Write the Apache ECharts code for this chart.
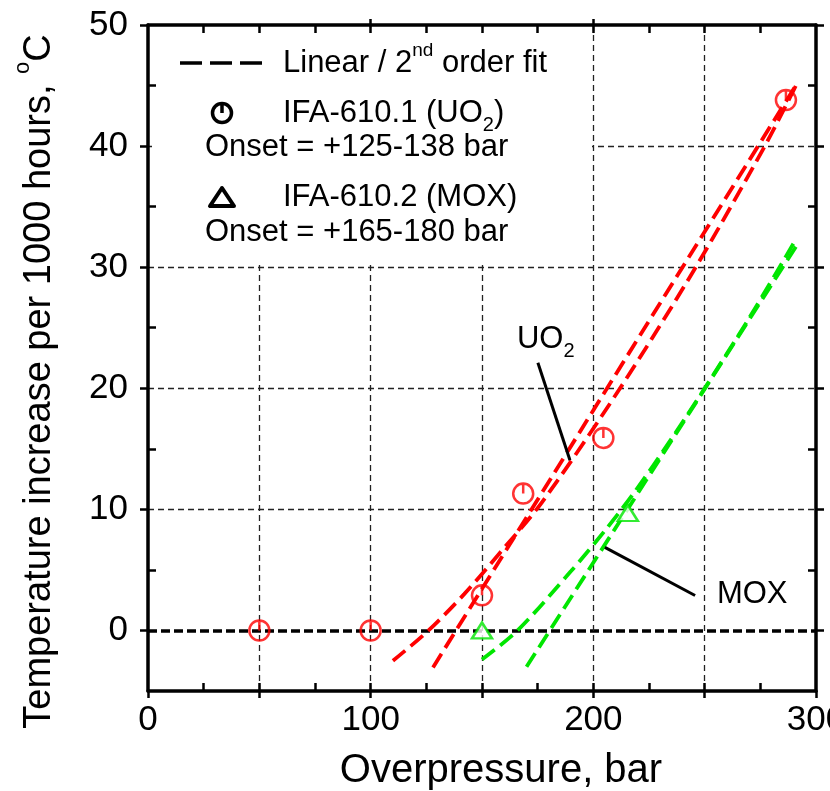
<!DOCTYPE html>
<html>
<head>
<meta charset="utf-8">
<script src="https://cdn.jsdelivr.net/npm/echarts@6/dist/echarts.min.js"></script>
<style>
  html, body { margin: 0; padding: 0; background: #fff; }
  #chart { width: 830px; height: 791px; }
</style>
</head>
<body>
<div id="chart"></div>
<script>
// measured points
const uo2X = [50, 100, 150, 168.5, 204.5, 286.5];
const uo2Y = [0, 0, 2.9, 11.3, 15.9, 43.8];
const moxX = [150, 215.5];
const moxY = [0, 9.7];

// fit curves
const uo2LinX = [128, 290.6];
const uo2LinY = [-3.05, 44.9];
const uo2QuadX = [110, 126, 142, 158, 177, 212, 246, 277, 291];
const uo2QuadY = [-2.5, 0, 3.0, 6.4, 10.6, 20, 30, 40, 45];
const moxLinX = [170, 291];
const moxLinY = [-3.0, 31.7];
const moxQuadX = [150, 166, 190, 205, 218, 235, 250, 270, 291];
const moxQuadY = [-2.4, 0, 4.9, 8.2, 11.3, 15.8, 20.0, 25.8, 32.3];

// leader lines and their labels (data coords)
const uo2LeadX = [175.1, 189.5];
const uo2LeadY = [22.1, 14.05];
const moxLeadX = [205.2, 245.7];
const moxLeadY = [6.86, 2.89];
const uo2TextAt = [165.7, 24.0];
const moxTextAt = [255.5, 2.98];

// axes
const xLabels = [0, 100, 200, 300];
const xMajor = [0, 50, 100, 150, 200, 250, 300];
const xMinor = [25, 50, 75, 100, 125, 150, 175, 200, 225, 250, 275];
const xTopMajor = [100, 200];
const yLabels = [0, 10, 20, 30, 40, 50];
const yMinor = [5, 15, 25, 35, 45];
const xGrid = [50, 100, 150, 200, 250];
const yGrid = [0, 10, 20, 30, 40];

const FONT = 'Liberation Sans, Arial, sans-serif';
const RED = '#ff0000';
const GREEN = '#00e600';
const zip = (xs, ys) => xs.map((x, i) => [x, ys[i]]);

const lineAx = { show: true, onZero: false, lineStyle: { color: '#000', width: 3.5 } };
const noLine = { show: false, onZero: false };
const tick = (vals, inside, len) => ({
  show: true, inside: inside, length: len, customValues: vals,
  lineStyle: { color: '#000', width: 2.5 }
});
const base = { type: 'value', z: 10, splitLine: { show: false } };

const thinGrid = { color: '#222', width: 1.3, type: [6, 4] };
const zeroGrid = { color: '#000', width: 3.5, type: [9, 4] };
const fitDash = [16, 7];

const chart = echarts.init(document.getElementById('chart'));
chart.setOption({
  animation: false,
  backgroundColor: '#fff',
  grid: { left: 148, right: 14, top: 25, bottom: 100, containLabel: false, outerBoundsMode: 'none' },
  xAxis: [
    Object.assign({}, base, {
      position: 'bottom', min: 0, max: 300,
      axisLine: lineAx, axisTick: tick(xMajor, false, 7),
      axisLabel: { customValues: xLabels, fontSize: 35, color: '#000', fontFamily: FONT, margin: 12 },
      name: 'Overpressure, bar', nameLocation: 'middle', nameGap: 60, nameMoveOverlap: false,
      nameTextStyle: { fontSize: 40, color: '#000', fontFamily: FONT, padding: [0, 0, 0, 38] }
    }),
    Object.assign({}, base, {
      position: 'bottom', min: 0, max: 300,
      axisLine: noLine, axisTick: tick(xMinor, true, 8), axisLabel: { show: false }
    }),
    Object.assign({}, base, {
      position: 'top', min: 0, max: 300,
      axisLine: lineAx, axisTick: tick(xMinor, true, 8), axisLabel: { show: false }
    }),
    Object.assign({}, base, {
      position: 'top', min: 0, max: 300,
      axisLine: noLine, axisTick: tick(xTopMajor, false, 6), axisLabel: { show: false }
    })
  ],
  yAxis: [
    Object.assign({}, base, {
      position: 'left', min: -5, max: 50,
      axisLine: lineAx, axisTick: tick(yLabels, false, 8),
      axisLabel: { customValues: yLabels, fontSize: 35, color: '#000', fontFamily: FONT, margin: 20 },
      name: 'Temperature increase per 1000 hours, {sup|o}C',
      nameLocation: 'middle', nameGap: 80, nameMoveOverlap: false,
      nameTextStyle: {
        fontSize: 38, color: '#000', fontFamily: FONT, lineHeight: 56, padding: [0, 47, 0, 0],
        rich: { sup: { fontSize: 22, lineHeight: 14, verticalAlign: 'top', color: '#000', fontFamily: FONT } }
      }
    }),
    Object.assign({}, base, {
      position: 'left', min: -5, max: 50,
      axisLine: noLine, axisTick: tick(yMinor, true, 8), axisLabel: { show: false }
    }),
    Object.assign({}, base, {
      position: 'right', min: -5, max: 50,
      axisLine: lineAx, axisTick: tick(yLabels, false, 8), axisLabel: { show: false }
    }),
    Object.assign({}, base, {
      position: 'right', min: -5, max: 50,
      axisLine: noLine, axisTick: tick(yMinor, true, 8), axisLabel: { show: false }
    })
  ],
  series: [
    {
      name: 'UO2 fit (2nd order)', type: 'line', data: zip(uo2QuadX, uo2QuadY),
      smooth: 0.3, symbol: 'none', z: 3,
      lineStyle: { color: RED, width: 3.8, type: fitDash }
    },
    {
      name: 'UO2 fit (linear)', type: 'line', data: zip(uo2LinX, uo2LinY),
      symbol: 'none', z: 3,
      lineStyle: { color: RED, width: 3.8, type: fitDash }
    },
    {
      name: 'MOX fit (2nd order)', type: 'line', data: zip(moxQuadX, moxQuadY),
      smooth: 0.3, symbol: 'none', z: 3,
      lineStyle: { color: GREEN, width: 3.8, type: fitDash }
    },
    {
      name: 'MOX fit (linear)', type: 'line', data: zip(moxLinX, moxLinY),
      symbol: 'none', z: 3,
      lineStyle: { color: GREEN, width: 3.8, type: fitDash }
    },
    {
      name: 'IFA-610.1 (UO2)', type: 'scatter', data: zip(uo2X, uo2Y), z: 4,
      symbol: 'path://M10,0A10,10,0,1,1,9.99,0ZM10,0L10,10', symbolSize: 20,
      itemStyle: { color: 'none', borderColor: RED, borderWidth: 2.5 },
      markLine: {
        silent: true, symbol: 'none', label: { show: false }, z: 2,
        data: yGrid.map(v => ({ yAxis: v, lineStyle: v === 0 ? zeroGrid : thinGrid }))
          .concat(xGrid.map(v => ({ xAxis: v, lineStyle: thinGrid })))
      }
    },
    {
      name: 'IFA-610.2 (MOX)', type: 'scatter', data: zip(moxX, moxY), z: 4,
      symbol: 'triangle', symbolSize: [20, 16],
      itemStyle: { color: '#fff', borderColor: GREEN, borderWidth: 2.5 }
    },
    {
      name: 'UO2 leader', type: 'line', data: zip(uo2LeadX, uo2LeadY), symbol: 'none', z: 5,
      lineStyle: { color: '#000', width: 3 }
    },
    {
      name: 'MOX leader', type: 'line', data: zip(moxLeadX, moxLeadY), symbol: 'none', z: 5,
      lineStyle: { color: '#000', width: 3 }
    }
  ]
});

const toPx = p => chart.convertToPixel({ xAxisIndex: 0, yAxisIndex: 0 }, p);
const uo2Txt = toPx(uo2TextAt);
const moxTxt = toPx(moxTextAt);
const txt = (x, y, text, extra) => ({
  type: 'text', z: 6,
  style: Object.assign({
    x: x, y: y, text: text, fill: '#000', fontSize: 31, fontFamily: FONT,
    verticalAlign: 'middle', align: 'left', lineHeight: 44
  }, extra || {})
});
const supRich = { sup: { fontSize: 19, lineHeight: 18, verticalAlign: 'top', fill: '#000', fontFamily: FONT } };
const subRich = { sub: { fontSize: 20, lineHeight: 18, verticalAlign: 'bottom', fill: '#000', fontFamily: FONT } };

chart.setOption({
  graphic: [
    // legend box
    { type: 'rect', z: 5, shape: { x: 152, y: 28, width: 440, height: 236 }, style: { fill: '#fff' } },
    { type: 'line', z: 6, shape: { x1: 180, y1: 63, x2: 263, y2: 63 },
      style: { stroke: '#000', lineWidth: 3.5, lineDash: [22, 8] } },
    txt(283, 63, 'Linear / 2{sup|nd} order fit', { rich: supRich }),
    { type: 'circle', z: 6, shape: { cx: 222, cy: 113, r: 9.5 },
      style: { fill: 'none', stroke: '#000', lineWidth: 3.5 } },
    { type: 'line', z: 6, shape: { x1: 222, y1: 103, x2: 222, y2: 113 },
      style: { stroke: '#000', lineWidth: 3.5 } },
    txt(283, 113, 'IFA-610.1 (UO{sub|2})', { rich: subRich }),
    txt(205, 147, 'Onset = +125-138 bar'),
    { type: 'polygon', z: 6, shape: { points: [[222, 188], [210, 206], [234, 206]] },
      style: { fill: 'none', stroke: '#000', lineWidth: 4, lineJoin: 'round' } },
    txt(283, 197, 'IFA-610.2 (MOX)'),
    txt(205, 232, 'Onset = +165-180 bar'),
    // annotations
    txt(uo2Txt[0], uo2Txt[1], 'UO{sub|2}', { rich: subRich }),
    txt(moxTxt[0], moxTxt[1], 'MOX')
  ]
});
</script>
</body>
</html>
